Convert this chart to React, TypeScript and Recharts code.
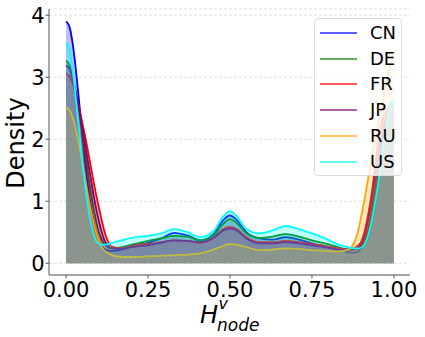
import React from 'react';
import { ComposedChart, Area, XAxis, YAxis, CartesianGrid, Legend } from 'recharts';

const xs = [0, 0.01, 0.02, 0.03, 0.04, 0.05, 0.06, 0.07, 0.08, 0.09, 0.1, 0.11, 0.12, 0.14, 0.17, 0.2, 0.25, 0.29, 0.33, 0.37, 0.41, 0.45, 0.48, 0.5, 0.52, 0.55, 0.59, 0.63, 0.67, 0.71, 0.75, 0.79, 0.83, 0.86, 0.88, 0.89, 0.9, 0.91, 0.92, 0.93, 0.94, 0.95, 0.96, 0.97, 0.98, 0.99, 1.0];

const CN = [3.9, 3.82, 3.55, 3.12, 2.6, 2.05, 1.55, 1.12, 0.78, 0.52, 0.36, 0.27, 0.22, 0.2, 0.22, 0.28, 0.33, 0.4, 0.49, 0.45, 0.37, 0.47, 0.7, 0.77, 0.7, 0.5, 0.4, 0.38, 0.42, 0.38, 0.32, 0.27, 0.22, 0.18, 0.17, 0.19, 0.24, 0.3, 0.4, 0.6, 0.88, 1.3, 1.78, 2.15, 2.42, 2.58, 2.63];
const DE = [3.27, 3.2, 3.0, 2.75, 2.45, 2.1, 1.72, 1.33, 1.0, 0.72, 0.5, 0.37, 0.29, 0.24, 0.26, 0.3, 0.36, 0.4, 0.44, 0.43, 0.37, 0.45, 0.64, 0.71, 0.65, 0.48, 0.41, 0.43, 0.47, 0.43, 0.37, 0.32, 0.26, 0.22, 0.22, 0.24, 0.28, 0.36, 0.52, 0.78, 1.12, 1.55, 1.98, 2.25, 2.42, 2.52, 2.55];
const FR = [3.06, 3.02, 2.9, 2.72, 2.5, 2.25, 2.0, 1.72, 1.43, 1.15, 0.9, 0.66, 0.46, 0.27, 0.24, 0.28, 0.31, 0.34, 0.37, 0.36, 0.33, 0.41, 0.55, 0.585, 0.55, 0.42, 0.34, 0.34, 0.36, 0.34, 0.31, 0.28, 0.24, 0.23, 0.25, 0.28, 0.35, 0.5, 0.75, 1.05, 1.45, 1.9, 2.2, 2.38, 2.48, 2.52, 2.52];
const JP = [3.19, 3.14, 2.98, 2.75, 2.48, 2.18, 1.86, 1.54, 1.22, 0.93, 0.68, 0.48, 0.34, 0.24, 0.23, 0.26, 0.29, 0.33, 0.37, 0.36, 0.34, 0.41, 0.53, 0.56, 0.53, 0.4, 0.32, 0.32, 0.34, 0.32, 0.29, 0.26, 0.22, 0.21, 0.22, 0.25, 0.31, 0.44, 0.66, 0.96, 1.32, 1.72, 2.02, 2.22, 2.33, 2.39, 2.4];
const RU = [2.52, 2.47, 2.35, 2.15, 1.9, 1.6, 1.3, 1.0, 0.74, 0.52, 0.36, 0.25, 0.19, 0.13, 0.1, 0.1, 0.11, 0.12, 0.13, 0.14, 0.16, 0.22, 0.28, 0.31, 0.3, 0.26, 0.21, 0.22, 0.24, 0.23, 0.21, 0.2, 0.19, 0.22, 0.35, 0.5, 0.75, 1.02, 1.33, 1.62, 1.92, 2.2, 2.48, 2.75, 3.0, 3.22, 3.4];
const US = [3.55, 3.45, 3.12, 2.65, 2.15, 1.62, 1.18, 0.82, 0.55, 0.38, 0.31, 0.3, 0.3, 0.33, 0.37, 0.41, 0.44, 0.48, 0.55, 0.5, 0.42, 0.52, 0.76, 0.84, 0.76, 0.55, 0.48, 0.53, 0.6, 0.55, 0.48, 0.4, 0.3, 0.26, 0.24, 0.24, 0.25, 0.3, 0.42, 0.62, 0.9, 1.22, 1.6, 1.98, 2.3, 2.55, 2.65];

const seriesNames = ['CN', 'DE', 'FR', 'JP', 'RU', 'US'];
const seriesColors = ['#0000ff', '#008000', '#ff0000', '#800080', '#ffa500', '#00ffff'];
const seriesValues = [CN, DE, FR, JP, RU, US];

const xTicks = [0, 0.25, 0.5, 0.75, 1.0];
const yTicks = [0, 1, 2, 3, 4];

const data = xs.map((x, i) => {
  const row: Record<string, number> = { x };
  seriesNames.forEach((n, k) => {
    row[n] = seriesValues[k][i];
  });
  return row;
});

const FONT = 'DejaVu Sans';
const FRAME = '#555555';

const XLabel = () => (
  <g fontFamily={FONT} fontStyle="italic" fill="#000">
    <text x={200} y={322.5} fontSize={24}>H</text>
    <text x={218.5} y={309} fontSize={16}>v</text>
    <text x={217} y={331} fontSize={17}>node</text>
  </g>
);

const YLabel = () => (
  <text
    x={24}
    y={143}
    fontFamily={FONT}
    fontSize={24}
    textAnchor="middle"
    transform="rotate(-90, 24, 143)"
    fill="#000"
  >
    Density
  </text>
);

const LegendBox = () => (
  <div
    style={{
      width: 86,
      height: 156,
      border: '1px solid #dcdcdc',
      borderRadius: 4,
      background: 'rgba(255,255,255,0.8)',
      fontFamily: FONT,
      fontSize: 18,
      position: 'relative',
    }}
  >
    {seriesNames.map((n, k) => (
      <div
        key={n}
        style={{ position: 'absolute', left: 0, top: 2 + k * 25.7, height: 24, width: 86, display: 'flex', alignItems: 'center' }}
      >
        <svg width={50} height={24} style={{ display: 'block' }}>
          <line x1={5} x2={42} y1={12} y2={12} stroke={seriesColors[k]} strokeWidth={1.5} strokeOpacity={0.85} />
        </svg>
        <span style={{ marginLeft: 5, lineHeight: '24px', color: '#000' }}>{n}</span>
      </div>
    ))}
  </div>
);

export default function App() {
  return (
    <div style={{ position: 'absolute', left: 0, top: 0, width: 425, height: 337, background: '#fff' }}>
      <ComposedChart width={425} height={337} data={data} margin={{ top: 9, right: 15, bottom: 0, left: 0 }}>
        <CartesianGrid vertical={false} stroke="#d4d4d4" strokeDasharray="3 2" strokeWidth={0.8} />
        <XAxis
          dataKey="x"
          type="number"
          domain={[-0.052, 1.049]}
          ticks={xTicks}
          tickFormatter={(v: number) => v.toFixed(2)}
          height={62}
          tickSize={3.5}
          tickMargin={3.5}
          tick={{ fontFamily: FONT, fontSize: 21, fill: '#000' }}
          axisLine={{ stroke: FRAME, strokeWidth: 1 }}
          tickLine={{ stroke: FRAME }}
          allowDataOverflow
          label={<XLabel />}
        />
        <XAxis
          xAxisId="top"
          orientation="top"
          type="number"
          domain={[-0.052, 1.049]}
          height={0}
          tick={false}
          tickLine={false}
          axisLine={{ stroke: FRAME, strokeWidth: 1 }}
        />
        <YAxis
          type="number"
          domain={[-0.19, 4.1]}
          ticks={yTicks}
          width={49}
          tickSize={3.5}
          tickMargin={1}
          tick={{ fontFamily: FONT, fontSize: 21, fill: '#000' }}
          axisLine={{ stroke: FRAME, strokeWidth: 1 }}
          tickLine={{ stroke: FRAME }}
          allowDataOverflow
          label={<YLabel />}
        />
        <YAxis
          yAxisId="right"
          orientation="right"
          type="number"
          domain={[-0.19, 4.1]}
          width={0}
          tick={false}
          tickLine={false}
          axisLine={{ stroke: FRAME, strokeWidth: 1 }}
        />
        {seriesNames.map((n, k) => (
          <Area
            key={n}
            type="monotone"
            dataKey={n}
            name={n}
            stroke={seriesColors[k]}
            strokeWidth={1.8}
            fill={seriesColors[k]}
            fillOpacity={0.25}
            baseValue={0}
            dot={false}
            activeDot={false}
            isAnimationActive={false}
          />
        ))}
        <Legend
          layout="vertical"
          align="center"
          verticalAlign="middle"
          wrapperStyle={{ position: 'absolute', left: 314, top: 18, width: 88, height: 158 }}
          content={() => <LegendBox />}
        />
      </ComposedChart>
    </div>
  );
}
